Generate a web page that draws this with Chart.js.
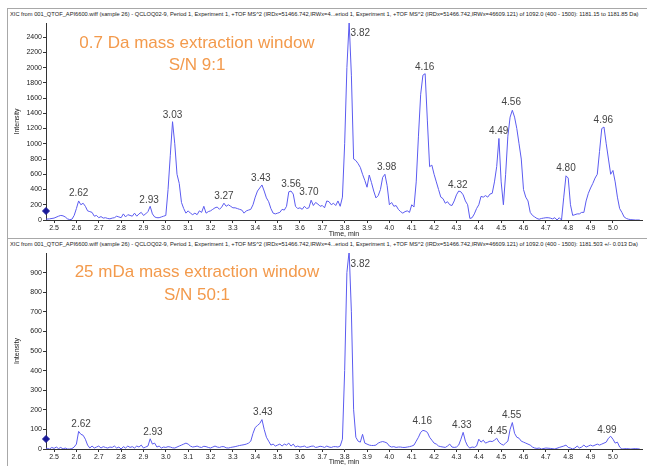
<!DOCTYPE html>
<html>
<head>
<meta charset="utf-8">
<script src="https://cdn.jsdelivr.net/npm/chart.js@4.4.0/dist/chart.umd.min.js"></script>
<style>
    body { margin: 0; background: #fff; width: 647px; height: 466px; overflow: hidden; position: relative; font-family: "Liberation Sans", Arial, sans-serif; }
    .panel { position: absolute; left: 7px; width: 650px; border: 1px solid #a8a8a8; box-sizing: border-box; }
    .header { position: absolute; left: 2px; top: 2px; font-size: 5.72px; color: #222; white-space: nowrap; }
    canvas { position: absolute; left: 0; }
    .note { position: absolute; color: #f39a4c; font-size: 17px; text-align: center; width: 300px; left: 47px; }
</style>
</head>
<body>
<div class="panel" style="top: 8px; height: 231px;">
    <div class="header">XIC from 001_QTOF_API6600.wiff (sample 26) - QCLOQ02-9, Period 1, Experiment 1, +TOF MS^2 (IRDx=51466.742,IRWx=4...eriod 1, Experiment 1, +TOF MS^2 (IRDx=51466.742,IRWx=46609.121) of 1092.0 (400 - 1500): 1181.15 to 1181.85 Da)</div>
</div>
<div class="panel" style="top: 238px; height: 240px;">
    <div class="header">XIC from 001_QTOF_API6600.wiff (sample 26) - QCLOQ02-9, Period 1, Experiment 1, +TOF MS^2 (IRDx=51466.742,IRWx=4...eriod 1, Experiment 1, +TOF MS^2 (IRDx=51466.742,IRWx=46609.121) of 1092.0 (400 - 1500): 1181.503 +/- 0.013 Da)</div>
</div>
<canvas id="topChart" width="647" height="238" style="top: 0;"></canvas>
<canvas id="bottomChart" width="647" height="228" style="top: 238px;"></canvas>
<div class="note" style="top: 33px;">0.7 Da mass extraction window</div>
<div class="note" style="top: 55px;">S/N 9:1</div>
<div class="note" style="top: 262px;">25 mDa mass extraction window</div>
<div class="note" style="top: 285px;">S/N 50:1</div>
<script>
// --- Data: 0.7 Da window (top trace) ---
const topTime = [2.46, 2.48, 2.50, 2.52, 2.53, 2.54, 2.55, 2.56, 2.57, 2.58, 2.59, 2.60, 2.61, 2.62, 2.63, 2.64, 2.65, 2.66, 2.67, 2.68, 2.69,
    2.70, 2.71, 2.72, 2.73, 2.74, 2.75, 2.76, 2.77, 2.78, 2.79, 2.80, 2.81, 2.82, 2.83, 2.84, 2.85, 2.86, 2.87, 2.88, 2.89,
    2.90, 2.91, 2.92, 2.93, 2.94, 2.95, 2.96, 2.97, 2.98, 2.99, 3.00, 3.01, 3.02, 3.03, 3.04, 3.05, 3.06, 3.07, 3.08, 3.09,
    3.10, 3.11, 3.12, 3.13, 3.14, 3.15, 3.16, 3.17, 3.18, 3.19, 3.20, 3.21, 3.22, 3.23, 3.24, 3.25, 3.26, 3.27, 3.28, 3.29,
    3.30, 3.31, 3.32, 3.33, 3.34, 3.35, 3.36, 3.37, 3.38, 3.39, 3.40, 3.41, 3.42, 3.43, 3.44, 3.45, 3.46, 3.47, 3.48, 3.49,
    3.50, 3.51, 3.52, 3.53, 3.54, 3.55, 3.56, 3.57, 3.58, 3.59, 3.60, 3.61, 3.62, 3.63, 3.64, 3.65, 3.66, 3.67, 3.68, 3.69,
    3.70, 3.71, 3.72, 3.73, 3.74, 3.75, 3.76, 3.77, 3.78, 3.79, 3.80, 3.81, 3.82, 3.83, 3.84, 3.85, 3.86, 3.87, 3.88, 3.89,
    3.90, 3.91, 3.92, 3.93, 3.94, 3.95, 3.96, 3.97, 3.98, 3.99, 4.00, 4.01, 4.02, 4.03, 4.04, 4.05, 4.06, 4.07, 4.08, 4.09,
    4.10, 4.11, 4.12, 4.13, 4.14, 4.15, 4.16, 4.17, 4.18, 4.19, 4.20, 4.21, 4.22, 4.23, 4.24, 4.25, 4.26, 4.27, 4.28, 4.29,
    4.30, 4.31, 4.32, 4.33, 4.34, 4.35, 4.36, 4.37, 4.38, 4.39, 4.40, 4.41, 4.42, 4.43, 4.44, 4.45, 4.46, 4.47, 4.48, 4.49,
    4.50, 4.51, 4.52, 4.53, 4.54, 4.55, 4.56, 4.57, 4.58, 4.59, 4.60, 4.61, 4.62, 4.63, 4.64, 4.65, 4.66, 4.67, 4.68, 4.69,
    4.70, 4.71, 4.72, 4.73, 4.74, 4.75, 4.76, 4.77, 4.78, 4.79, 4.80, 4.81, 4.82, 4.83, 4.84, 4.85, 4.86, 4.87, 4.88, 4.89,
    4.90, 4.91, 4.92, 4.93, 4.94, 4.95, 4.96, 4.97, 4.98, 4.99, 5.00, 5.01, 5.02, 5.03, 5.04, 5.05, 5.06, 5.07, 5.08, 5.10, 5.12];
const topIntensity = [10, 15, 25, 50, 60, 55, 40, 15, 5, 10, 60, 150, 250, 200, 220, 180, 120, 110, 100, 50, 60,
    30, 45, 25, 30, 20, 15, 25, 30, 50, 40, 30, 80, 40, 70, 60, 50, 90, 50, 80, 100,
    60, 80, 110, 180, 80, 40, 30, 30, 40, 50, 60, 400, 850, 1290, 1000, 600, 480, 230, 150, 90,
    120, 90, 70, 90, 70, 120, 100, 180, 90, 110, 120, 140, 160, 170, 140, 170, 220, 180, 200, 180,
    160, 160, 150, 140, 130, 90, 120, 130, 140, 200, 300, 380, 420, 460, 380, 290, 240, 150, 90, 80,
    90, 100, 140, 130, 180, 370, 380, 340, 180, 150, 160, 140, 180, 150, 160, 260, 190, 230, 210, 180,
    190, 160, 250, 240, 200, 220, 190, 250, 180, 300, 1000, 2000, 2600, 1900, 800, 780, 740, 690, 600, 520,
    430, 590, 490, 380, 290, 320, 400, 560, 600, 450, 200, 230, 180, 190, 140, 110, 90, 110, 120, 100,
    200, 170, 500, 1100, 1650, 1900, 1920, 1300, 700, 720, 600, 500, 400, 300, 280, 220, 240, 200, 190, 250,
    330, 380, 370, 330, 250, 200, 20, 30, 80, 150, 200, 310, 300, 320, 300, 340, 350, 500, 700, 1070,
    500, 200, 600, 1100, 1350, 1440, 1350, 1200, 1000, 800, 400, 300, 250, 100, 60, 40, 20, 10, 20, 25,
    30, 30, 25, 15, 30, 0, 30, 0, 300, 580, 550, 200, 60, 70, 80, 80, 100, 100, 250, 350,
    420, 480, 550, 600, 900, 1200, 1220, 1000, 800, 600, 650, 500, 300, 150, 100, 40, 20, 10, 5, 0, 0];

// --- Data: 25 mDa window (bottom trace) ---
const bottomTime = [2.46, 2.47, 2.48, 2.49, 2.50, 2.51, 2.52, 2.53, 2.54, 2.55, 2.56, 2.57, 2.58, 2.59,
    2.60, 2.61, 2.62, 2.63, 2.64, 2.65, 2.66, 2.67, 2.68, 2.69, 2.70, 2.71, 2.72, 2.73, 2.74, 2.75, 2.76, 2.77, 2.78, 2.79,
    2.80, 2.81, 2.82, 2.83, 2.84, 2.85, 2.86, 2.87, 2.88, 2.89, 2.90, 2.91, 2.92, 2.93, 2.94, 2.95, 2.96, 2.97, 2.98, 2.99,
    3.00, 3.01, 3.02, 3.03, 3.04, 3.05, 3.06, 3.07, 3.08, 3.09, 3.10, 3.11, 3.12, 3.13, 3.14, 3.15, 3.16, 3.17, 3.18, 3.19,
    3.20, 3.21, 3.22, 3.23, 3.24, 3.25, 3.26, 3.27, 3.28, 3.29, 3.30, 3.31, 3.32, 3.33, 3.34, 3.35, 3.36, 3.37, 3.38, 3.39,
    3.40, 3.41, 3.42, 3.43, 3.44, 3.45, 3.46, 3.47, 3.48, 3.49, 3.50, 3.51, 3.52, 3.53, 3.54, 3.55, 3.56, 3.57, 3.58, 3.59,
    3.60, 3.61, 3.62, 3.63, 3.64, 3.65, 3.66, 3.67, 3.68, 3.69, 3.70, 3.71, 3.72, 3.73, 3.74, 3.75, 3.76, 3.77, 3.78, 3.79,
    3.80, 3.81, 3.82, 3.83, 3.84, 3.85, 3.86, 3.87, 3.88, 3.89, 3.90, 3.91, 3.92, 3.93, 3.94, 3.95, 3.96, 3.97, 3.98, 3.99,
    4.00, 4.01, 4.02, 4.03, 4.04, 4.05, 4.06, 4.07, 4.08, 4.09, 4.10, 4.11, 4.12, 4.13, 4.14, 4.15, 4.16, 4.17, 4.18, 4.19,
    4.20, 4.21, 4.22, 4.23, 4.24, 4.25, 4.26, 4.27, 4.28, 4.29, 4.30, 4.31, 4.32, 4.33, 4.34, 4.35, 4.36, 4.37, 4.38, 4.39,
    4.40, 4.41, 4.42, 4.43, 4.44, 4.45, 4.46, 4.47, 4.48, 4.49, 4.50, 4.51, 4.52, 4.53, 4.54, 4.55, 4.56, 4.57, 4.58, 4.59,
    4.60, 4.61, 4.62, 4.63, 4.64, 4.65, 4.66, 4.67, 4.68, 4.70, 4.72, 4.74, 4.76, 4.78, 4.79,
    4.80, 4.81, 4.82, 4.83, 4.84, 4.85, 4.86, 4.87, 4.88, 4.89, 4.90, 4.91, 4.92, 4.93, 4.94, 4.95, 4.96, 4.97, 4.98, 4.99,
    5.00, 5.01, 5.02, 5.03, 5.04, 5.06, 5.08, 5.10, 5.12];
const bottomIntensity = [5, 3, 0, 8, 3, 10, 2, 8, 0, 5, 0, 0, 2, 10,
    25, 90, 75, 70, 50, 20, 5, 15, 5, 10, 15, 5, 12, 8, 5, 10, 8, 15, 5, 10,
    0, 12, 5, 15, 8, 12, 5, 15, 10, 20, 5, 10, 15, 52, 25, 30, 10, 15, 5, 10,
    8, 12, 10, 6, 5, 10, 15, 20, 25, 30, 25, 15, 10, 12, 15, 10, 8, 14, 12, 8,
    5, 10, 15, 10, 8, 12, 12, 6, 5, 8, 10, 12, 15, 18, 20, 22, 25, 30, 40, 80,
    110, 120, 130, 150, 100, 60, 40, 20, 25, 15, 20, 25, 15, 25, 20, 30, 15, 25, 10, 15,
    10, 12, 15, 8, 10, 14, 15, 8, 10, 14, 12, 8, 15, 10, 8, 12, 12, 10, 15, 50,
    400, 900, 1010, 700, 200, 60, 40, 35, 75, 30, 25, 20, 18, 18, 20, 30, 35, 38, 35, 30,
    15, 10, 12, 8, 10, 10, 8, 8, 10, 12, 15, 20, 40, 60, 85, 95, 92, 85, 60, 45,
    30, 25, 15, 12, 10, 8, 15, 25, 10, 8, 10, 20, 50, 85, 40, 15, 5, 10, 8, 15,
    50, 35, 45, 30, 35, 40, 38, 45, 55, 35, 25, 20, 30, 40, 100, 135, 80, 60, 55, 40,
    35, 30, 25, 20, 10, 5, 3, 5, 0, 5, 3, 0, 8, 15, 20,
    8, 5, 0, 5, 15, 5, 10, 20, 10, 15, 20, 15, 20, 25, 20, 25, 30, 35, 55, 65,
    50, 30, 35, 10, 0, 2, 0, 2, 0];

// --- Peak labels (text, time, intensity under the text) ---
const topPeakText = ['2.62', '2.93', '3.03', '3.27', '3.43', '3.56', '3.70', '3.82', '3.98', '4.16', '4.32', '4.49', '4.56', '4.80', '4.96'];
const topPeakTime = [2.61, 2.925, 3.03, 3.26, 3.425, 3.56, 3.64, 3.87, 3.988, 4.158, 4.306, 4.489, 4.545, 4.79, 4.957];
const topPeakHeight = [290, 200, 1310, 242, 484, 404, 300, 2380, 624, 1943, 396, 1099, 1473, 615, 1239];

const bottomPeakText = ['2.62', '2.93', '3.43', '3.82', '4.16', '4.33', '4.45', '4.55', '4.99'];
const bottomPeakTime = [2.621, 2.942, 3.434, 3.87, 4.147, 4.324, 4.484, 4.547, 4.973];
const bottomPeakHeight = [100, 62, 160, 915, 114, 97, 66, 148, 69];

// --- Axis ranges and tick labels ---
const timeMin = 2.464;
const timeMax = 5.13;
const timeTicks = [2.5, 2.6, 2.7, 2.8, 2.9, 3.0, 3.1, 3.2, 3.3, 3.4, 3.5, 3.6, 3.7, 3.8, 3.9, 4.0, 4.1, 4.2, 4.3, 4.4, 4.5, 4.6, 4.7, 4.8, 4.9, 5.0];
const topYMax = 2585;
const topYTicks = [0, 200, 400, 600, 800, 1000, 1200, 1400, 1600, 1800, 2000, 2200, 2400];
const bottomYMax = 1000;
const bottomYTicks = [0, 100, 200, 300, 400, 500, 600, 700, 800, 900];
const topMarker = 118;
const bottomMarker = 51;

const traceColor = '#5b5bf0';
const textColor = '#222';
const smallFont = '"Liberation Sans", Arial, sans-serif';

// --- Plugin: peak retention time labels ---
const peakLabels = {
    id: 'peakLabels',
    afterDatasetsDraw(chart, args, opts) {
        const ctx = chart.ctx;
        const xs = chart.scales.x;
        const ys = chart.scales.y;
        ctx.save();
        ctx.font = '10px ' + smallFont;
        ctx.fillStyle = '#444';
        ctx.textAlign = 'center';
        ctx.textBaseline = 'bottom';
        opts.text.forEach((t, i) => {
            ctx.fillText(t, xs.getPixelForValue(opts.time[i]), ys.getPixelForValue(opts.height[i]));
        });
        ctx.restore();
    }
};

function pairs(xs, ys) {
    return xs.map((x, i) => ({ x: x, y: ys[i] }));
}

function buildChart(canvasId, time, intensity, yMax, yTicks, marker, peaks, areaTop, axisHeight) {
    const ctx = document.getElementById(canvasId).getContext('2d');
    return new Chart(ctx, {
        type: 'line',
        data: {
            datasets: [{
                data: pairs(time, intensity),
                borderColor: traceColor,
                borderWidth: 1,
                pointRadius: 0,
                tension: 0,
                fill: false
            }, {
                data: [{ x: timeMin, y: marker }],
                showLine: false,
                pointStyle: 'rectRot',
                pointRadius: 3.5,
                pointBackgroundColor: '#1a1a9a',
                pointBorderColor: '#1a1a9a',
                clip: false
            }]
        },
        options: {
            responsive: false,
            animation: false,
            devicePixelRatio: 1,
            layout: { padding: { left: 0, right: 5, top: areaTop, bottom: 0 } },
            plugins: {
                legend: { display: false },
                tooltip: { enabled: false },
                peakLabels: peaks
            },
            scales: {
                x: {
                    type: 'linear',
                    min: timeMin,
                    max: timeMax,
                    afterBuildTicks: s => { s.ticks = timeTicks.map(v => ({ value: v })); },
                    afterFit: s => { s.height = axisHeight; },
                    grid: { drawOnChartArea: false, drawTicks: true, tickLength: 3, color: '#333' },
                    border: { display: true, color: '#333' },
                    ticks: {
                        autoSkip: false,
                        maxRotation: 0,
                        padding: 1,
                        color: textColor,
                        font: { size: 7, family: smallFont },
                        callback: v => v.toFixed(1)
                    },
                    title: {
                        display: true,
                        text: 'Time, min',
                        color: textColor,
                        padding: { top: 0, bottom: 0 },
                        font: { size: 7, family: smallFont, lineHeight: 1 }
                    }
                },
                y: {
                    min: 0,
                    max: yMax,
                    afterBuildTicks: s => { s.ticks = yTicks.map(v => ({ value: v })); },
                    afterFit: s => { s.width = 46; },
                    grid: { drawOnChartArea: false, drawTicks: true, tickLength: 3, color: '#333' },
                    border: { display: true, color: '#333' },
                    ticks: {
                        autoSkip: false,
                        padding: 1,
                        color: textColor,
                        font: { size: 7, family: smallFont },
                        callback: v => String(v)
                    },
                    title: {
                        display: true,
                        text: 'Intensity',
                        color: textColor,
                        padding: { top: 13, bottom: 0 },
                        font: { size: 7, family: smallFont }
                    }
                }
            }
        },
        plugins: [peakLabels]
    });
}

buildChart('topChart', topTime, topIntensity, topYMax, topYTicks, topMarker,
    { text: topPeakText, time: topPeakTime, height: topPeakHeight }, 23, 18);
buildChart('bottomChart', bottomTime, bottomIntensity, bottomYMax, bottomYTicks, bottomMarker,
    { text: bottomPeakText, time: bottomPeakTime, height: bottomPeakHeight }, 15, 17);
</script>
</body>
</html>
